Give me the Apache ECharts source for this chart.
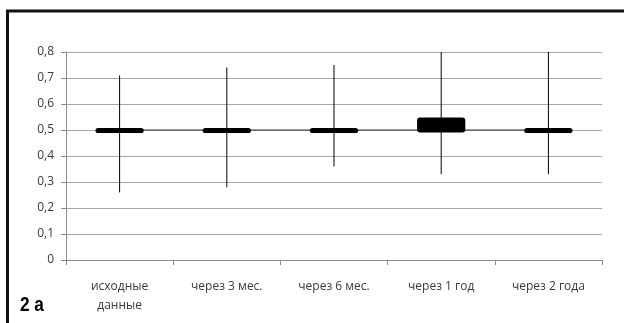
<!DOCTYPE html>
<html>
<head>
<meta charset="utf-8">
<script src="https://cdn.jsdelivr.net/npm/echarts@6/dist/echarts.min.js"></script>
<style>
  html, body { margin: 0; padding: 0; background: #fff; }
  #chart { width: 624px; height: 323px; }
</style>
</head>
<body>
<div id="chart"></div>
<script>
// categories and values
const categories = ['исходные\nданные', 'через 3 мес.', 'через 6 мес.', 'через 1 год', 'через 2 года'];
const lowValues = [0.26, 0.28, 0.36, 0.33, 0.33];
const highValues = [0.71, 0.74, 0.75, 0.80, 0.80];
const boxBottom = [0.488, 0.488, 0.488, 0.490, 0.488];
const boxTop = [0.508, 0.508, 0.508, 0.548, 0.508];
const lineValues = [0.5, 0.5, 0.5, 0.5, 0.5];
const yTicks = ['0', '0,1', '0,2', '0,3', '0,4', '0,5', '0,6', '0,7', '0,8'];

const chart = echarts.init(document.getElementById('chart'));

const stockData = categories.map((c, i) => [i, lowValues[i], highValues[i], boxBottom[i], boxTop[i]]);

const option = {
  animation: false,
  textStyle: { fontFamily: 'Open Sans' },
  grid: { left: 66, right: 22, top: 52, bottom: 63 },
  xAxis: {
    type: 'category',
    data: categories,
    boundaryGap: true,
    axisLine: { lineStyle: { color: '#8c8c8c', width: 1 } },
    axisTick: { show: true, length: 5, lineStyle: { color: '#8c8c8c' } },
    axisLabel: { color: '#3a3a3a', fontSize: 12, margin: 17, lineHeight: 19 }
  },
  yAxis: {
    type: 'value',
    min: 0,
    max: 0.8,
    interval: 0.1,
    axisLine: { show: true, lineStyle: { color: '#8c8c8c' } },
    axisTick: { show: true, length: 5, lineStyle: { color: '#8c8c8c' } },
    splitLine: { lineStyle: { color: '#a6a6a6', width: 1 } },
    axisLabel: {
      color: '#3a3a3a', fontSize: 12, margin: 12,
      formatter: v => yTicks[Math.round(v * 10)]
    }
  },
  series: [
    {
      type: 'line',
      data: lineValues,
      symbol: 'none',
      lineStyle: { color: '#333', width: 1 },
      z: 2
    },
    {
      type: 'custom',
      data: stockData,
      z: 3,
      renderItem: function (params, api) {
        const x = api.value(0);
        const lowP = api.coord([x, api.value(1)]);
        const highP = api.coord([x, api.value(2)]);
        const bP = api.coord([x, api.value(3)]);
        const tP = api.coord([x, api.value(4)]);
        const w = api.size([1, 0])[0] * 0.45;
        return {
          type: 'group',
          children: [
            {
              type: 'line',
              shape: { x1: lowP[0], y1: lowP[1], x2: highP[0], y2: highP[1] },
              style: { stroke: '#000', lineWidth: 1 }
            },
            {
              type: 'rect',
              shape: { x: bP[0] - w / 2, y: tP[1], width: w, height: bP[1] - tP[1], r: 3 },
              style: { fill: '#000' }
            }
          ]
        };
      }
    }
  ],
  graphic: [
    {
      type: 'polyline',
      shape: { points: [[7.5, 330], [7.5, 11], [630, 11]] },
      style: { stroke: '#111', lineWidth: 3, fill: null }
    },
    {
      type: 'text',
      x: 20,
      y: 295,
      scaleX: 0.82,
      style: {
        text: '2 a',
        font: 'bold 21px "Liberation Sans", Arial, sans-serif',
        fill: '#000'
      }
    }
  ]
};

chart.setOption(option);
window.addEventListener('resize', () => chart.resize());
</script>
</body>
</html>
